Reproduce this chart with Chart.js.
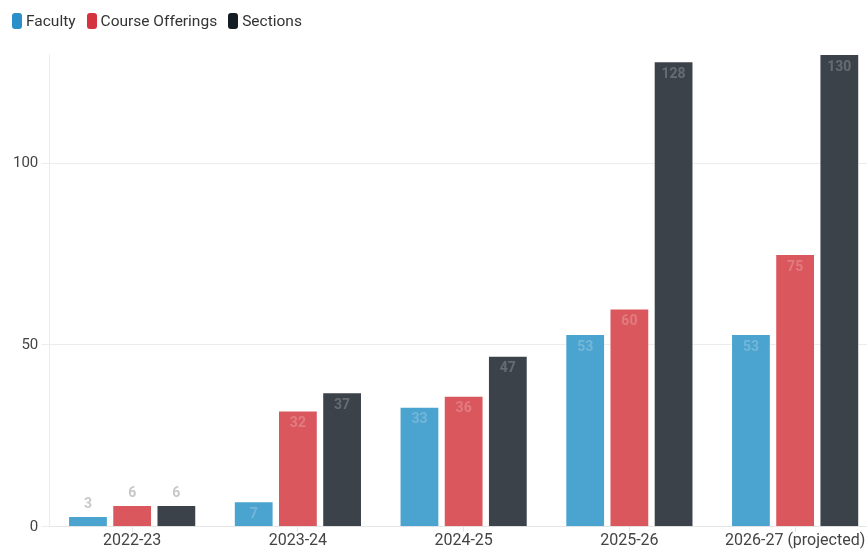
<!DOCTYPE html>
<html>
<head>
<meta charset="utf-8">
<script src="https://cdn.jsdelivr.net/npm/chart.js@4"></script>
<style>
  html, body { margin: 0; padding: 0; background: #fff; overflow: hidden; }
  #wrap { position: relative; width: 878px; height: 554px; }
  #legend { position: absolute; left: 12px; top: 12px; display: flex; font: 15.5px Roboto, sans-serif; color: #333; line-height: 18px; }
  #legend .item { display: flex; align-items: center; margin-right: 11px; }
  #legend .box { width: 10px; height: 16px; border-radius: 3px; margin-right: 4px; }
</style>
</head>
<body>
<div id="wrap"><canvas id="chart"></canvas><div id="legend"></div></div>
<script>
var years = ['2022-23', '2023-24', '2024-25', '2025-26', '2026-27 (projected)'];
var seriesNames = ['Faculty', 'Course Offerings', 'Sections'];
var faculty = [3, 7, 33, 53, 53];
var courseOfferings = [6, 32, 36, 60, 75];
var sections = [6, 37, 47, 128, 130];

var barColors = ['#4ba3cf', '#d9575d', '#3c4249'];
var legendColors = ['#2b8fca', '#d4343e', '#141c24'];

// value labels: inside the top of the bar, or above it when the bar is too short
var barLabels = {
  id: 'barLabels',
  afterDatasetsDraw: function(chart) {
    var ctx = chart.ctx;
    ctx.save();
    ctx.font = 'bold 14px Roboto';
    ctx.textAlign = 'center';
    ctx.textBaseline = 'middle';
    chart.data.datasets.forEach(function(ds, i) {
      chart.getDatasetMeta(i).data.forEach(function(bar, j) {
        var h = bar.base - bar.y;
        if (h > 24) {
          ctx.fillStyle = 'rgba(255,255,255,0.22)';
          ctx.fillText(ds.data[j], bar.x, bar.y + 13);
        } else {
          ctx.fillStyle = '#c8c8c8';
          ctx.fillText(ds.data[j], bar.x, bar.y - 11);
        }
      });
    });
    ctx.restore();
  }
};

var chart = new Chart(document.getElementById('chart'), {
  type: 'bar',
  data: {
    labels: years,
    datasets: [
      { label: seriesNames[0], data: faculty, backgroundColor: barColors[0] },
      { label: seriesNames[1], data: courseOfferings, backgroundColor: barColors[1] },
      { label: seriesNames[2], data: sections, backgroundColor: barColors[2] }
    ]
  },
  options: {
    responsive: true,
    maintainAspectRatio: false,
    animation: false,
    layout: { padding: { left: 10, top: 54, right: 0, bottom: 3 } },
    datasets: {
      bar: { borderWidth: 1, borderColor: 'rgba(255,255,255,0.35)' }
    },
    plugins: {
      tooltip: { enabled: false },
      legend: { display: false }
    },
    scales: {
      x: {
        grid: { display: true, drawOnChartArea: false, offset: false, color: '#e6e6e6', tickLength: 5 },
        border: { color: '#e6e6e6' },
        ticks: { color: '#444', font: { family: 'Roboto', size: 16 }, padding: 0, maxRotation: 0 }
      },
      y: {
        min: 0,
        max: 130,
        grid: { color: '#ececec', tickLength: 8 },
        border: { color: '#ececec' },
        ticks: { stepSize: 50, includeBounds: false, color: '#444', font: { family: 'Roboto', size: 15 }, padding: 3 }
      }
    }
  },
  plugins: [barLabels]
});

// legend as html, from the dataset names and colours
var legendHtml = '';
chart.data.datasets.forEach(function(ds, i) {
  legendHtml += '<span class="item"><span class="box" style="background:' + legendColors[i] + '"></span>' + ds.label + '</span>';
});
document.getElementById('legend').innerHTML = legendHtml;
</script>
</body>
</html>
